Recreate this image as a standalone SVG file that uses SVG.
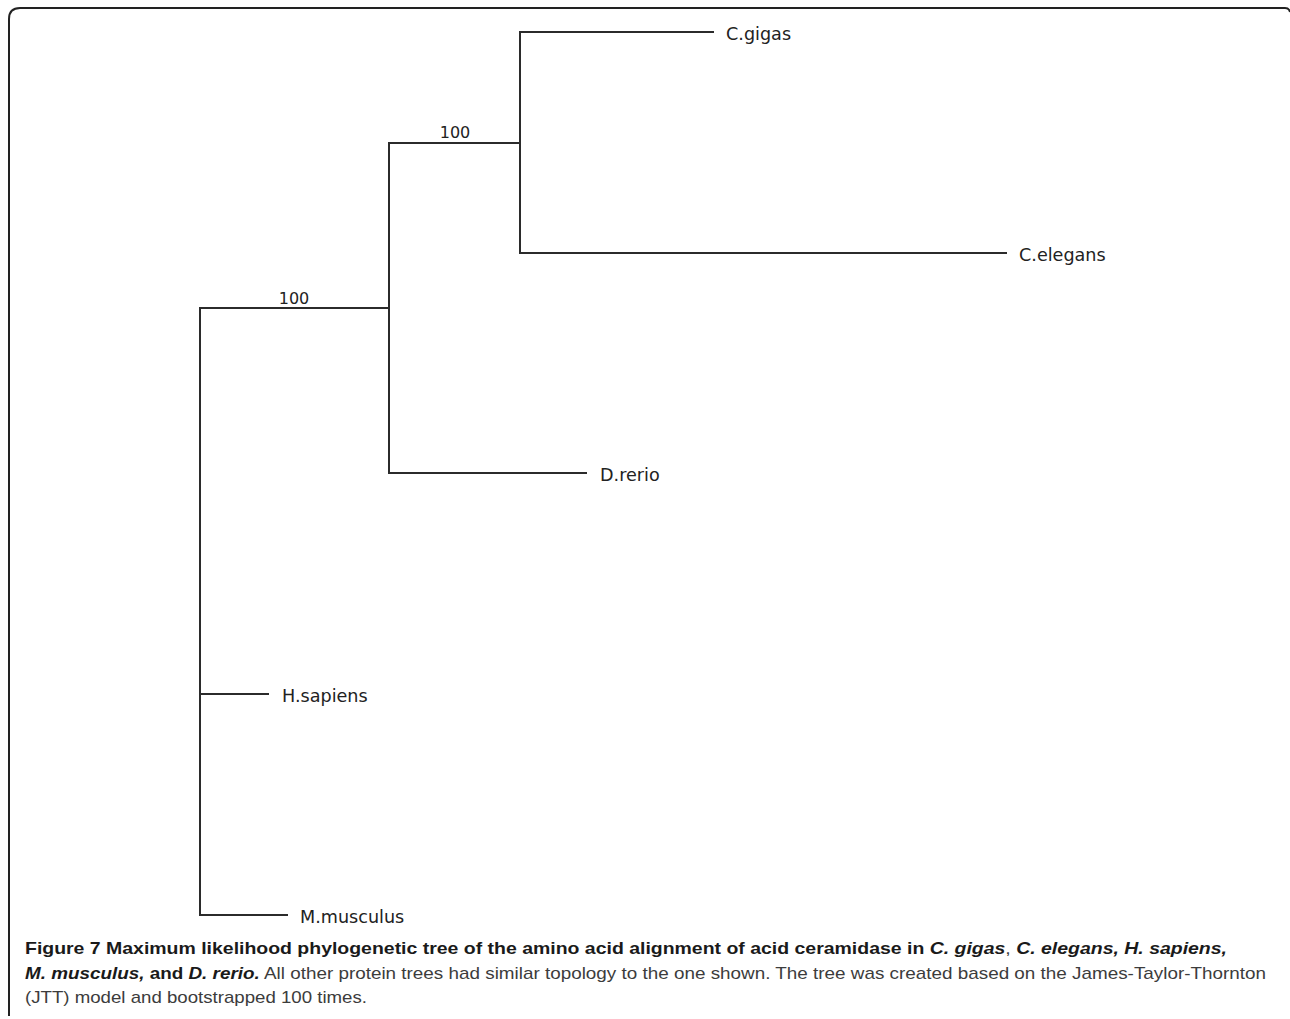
<svg xmlns="http://www.w3.org/2000/svg" width="1290" height="1019" viewBox="0 0 1290 1019">
<style>
.br{stroke:#2b2b2b;stroke-width:2;fill:none;stroke-linecap:square}
.lbl{font-family:"DejaVu Sans",sans-serif;font-size:17.6px;fill:#222}
.bs{font-family:"DejaVu Sans",sans-serif;font-size:16px;fill:#222;text-anchor:middle}
.cap{font-family:"Liberation Sans",Arial,sans-serif;font-size:17px}
.b{font-weight:bold;fill:#1a1a1a}
.bi{font-weight:bold;font-style:italic;fill:#1a1a1a}
.r{font-weight:normal;fill:#3c3c3c}
</style>
<rect width="1290" height="1019" fill="#fff"/>
<path d="M9,1016 V19 Q9,8 20,8 H1285 Q1289,8 1290,12" fill="none" stroke="#222" stroke-width="2"/>
<g id="connectors">
<path class="br" d="M520,32 V253"/>
<path class="br" d="M520,32 H713"/>
<path class="br" d="M520,253 H1006"/>
<path class="br" d="M389,143 V473"/>
<path class="br" d="M389,143 H520"/>
<path class="br" d="M389,473 H586"/>
<path class="br" d="M200,308 V915"/>
<path class="br" d="M200,308 H389"/>
<path class="br" d="M200,694 H268"/>
<path class="br" d="M200,915 H287"/>
</g>
<g id="bootstrap-1"><text class="bs" x="455" y="138">100</text></g>
<g id="bootstrap-2"><text class="bs" x="294" y="304">100</text></g>
<g id="node-cgigas"><text class="lbl" x="726" y="40">C.gigas</text></g>
<g id="node-celegans"><text class="lbl" x="1019" y="261">C.elegans</text></g>
<g id="node-drerio"><text class="lbl" x="600" y="481">D.rerio</text></g>
<g id="node-hsapiens"><text class="lbl" x="282" y="702">H.sapiens</text></g>
<g id="node-mmusculus"><text class="lbl" x="300" y="923">M.musculus</text></g>
<g id="caption">
<text class="cap" x="25" y="954" textLength="1202" lengthAdjust="spacingAndGlyphs"><tspan class="b">Figure 7 Maximum likelihood phylogenetic tree of the amino acid alignment of acid ceramidase in </tspan><tspan class="bi">C. gigas</tspan><tspan class="r">, </tspan><tspan class="bi">C. elegans, H. sapiens,</tspan></text>
<text class="cap" x="25" y="979" textLength="1241" lengthAdjust="spacingAndGlyphs"><tspan class="bi">M. musculus,</tspan><tspan class="b"> and </tspan><tspan class="bi">D. rerio.</tspan><tspan class="r"> All other protein trees had similar topology to the one shown. The tree was created based on the James-Taylor-Thornton</tspan></text>
<text class="cap r" x="25" y="1003" textLength="342" lengthAdjust="spacingAndGlyphs">(JTT) model and bootstrapped 100 times.</text>
</g>
</svg>
